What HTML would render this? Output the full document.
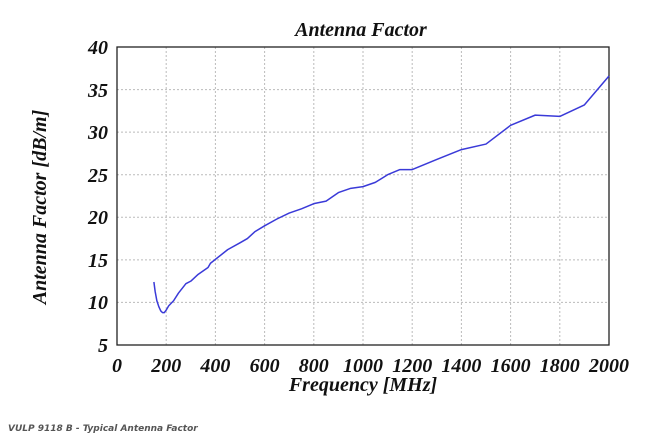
<!DOCTYPE html>
<html><head><style>
body{margin:0;background:#fff;}
svg text{font-family:"Liberation Serif",serif;font-weight:bold;font-style:italic;fill:#111;}
</style></head><body>
<svg width="660" height="436" xmlns="http://www.w3.org/2000/svg">
<rect width="660" height="436" fill="#fff"/>
<g stroke="#bbb" stroke-width="1" stroke-dasharray="2,2">
<line x1="166.2" y1="47" x2="166.2" y2="345"/><line x1="215.4" y1="47" x2="215.4" y2="345"/>
<line x1="264.6" y1="47" x2="264.6" y2="345"/><line x1="313.8" y1="47" x2="313.8" y2="345"/>
<line x1="363" y1="47" x2="363" y2="345"/><line x1="412.2" y1="47" x2="412.2" y2="345"/>
<line x1="461.4" y1="47" x2="461.4" y2="345"/><line x1="510.6" y1="47" x2="510.6" y2="345"/>
<line x1="559.8" y1="47" x2="559.8" y2="345"/>
<line x1="117" y1="89.6" x2="609" y2="89.6"/><line x1="117" y1="132.1" x2="609" y2="132.1"/>
<line x1="117" y1="174.7" x2="609" y2="174.7"/><line x1="117" y1="217.3" x2="609" y2="217.3"/>
<line x1="117" y1="259.9" x2="609" y2="259.9"/><line x1="117" y1="302.4" x2="609" y2="302.4"/>
</g>
<rect x="117" y="47" width="492" height="298" fill="none" stroke="#222" stroke-width="1.3"/>
<g transform="translate(117,345) scale(0.246,-8.514)">
<polyline vector-effect="non-scaling-stroke" fill="none" stroke="#3a3ad8" stroke-width="1.5" stroke-linejoin="round" points="150,7.4 155,6.3 162,5.2 170,4.5 178,4.0 185,3.8 192,3.8 200,4.1 210,4.6 230,5.2 250,6.1 280,7.2 300,7.5 330,8.3 370,9.1 380,9.6 450,11.2 500,12.0 530,12.5 560,13.3 600,14.0 650,14.8 700,15.5 750,16.0 800,16.6 850,16.9 900,17.9 950,18.4 1000,18.6 1050,19.1 1100,20.0 1150,20.6 1200,20.6 1300,21.8 1400,22.95 1500,23.6 1600,25.8 1700,27.0 1800,26.85 1900,28.2 2000,31.6"/>
</g>
<text x="361" y="36" font-size="20" text-anchor="middle">Antenna Factor</text>
<g font-size="20" text-anchor="end">
<text x="108" y="54">40</text><text x="108" y="97">35</text><text x="108" y="139">30</text>
<text x="108" y="182">25</text><text x="108" y="224">20</text><text x="108" y="267">15</text>
<text x="108" y="309">10</text><text x="108" y="352">5</text>
</g>
<g font-size="20" text-anchor="middle">
<text x="117" y="372">0</text><text x="166.2" y="372">200</text><text x="215.4" y="372">400</text>
<text x="264.6" y="372">600</text><text x="313.8" y="372">800</text><text x="363" y="372">1000</text>
<text x="412.2" y="372">1200</text><text x="461.4" y="372">1400</text><text x="510.6" y="372">1600</text>
<text x="559.8" y="372">1800</text><text x="609" y="372">2000</text>
</g>
<text x="363" y="391" font-size="20" text-anchor="middle">Frequency [MHz]</text>
<text transform="translate(46,207) rotate(-90)" font-size="20" text-anchor="middle">Antenna Factor [dB/m]</text>
<text x="8" y="431" font-size="9" style="font-family:'DejaVu Sans',sans-serif;fill:#555">VULP 9118 B - Typical Antenna Factor</text>
</svg>
</body></html>
